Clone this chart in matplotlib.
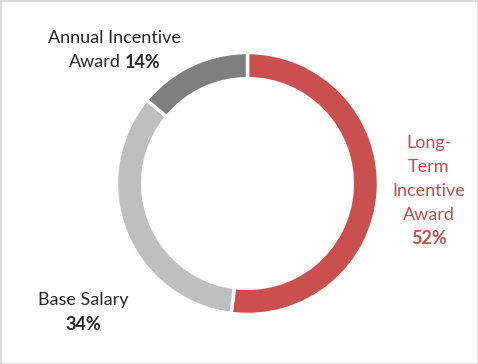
import matplotlib
matplotlib.use("Agg")
import matplotlib.pyplot as plt
from matplotlib.patches import Rectangle

labels = ["Long-Term Incentive Award", "Base Salary", "Annual Incentive Award"]
values = [52, 34, 14]
colors = ["#C9504F", "#BFBFBF", "#7F7F7F"]

W, H = 478, 364
fig = plt.figure(figsize=(W / 100, H / 100), dpi=100)
fig.patch.set_facecolor("white")

cx, cy, r = 247.5, 183.5, 131
ax = fig.add_axes([(cx - r) / W, (H - cy - r) / H, 2 * r / W, 2 * r / H])
ax.pie(values, colors=colors, startangle=90, counterclock=False,
       wedgeprops=dict(width=0.2, edgecolor="white", linewidth=2.5))
ax.set_xlim(-1, 1)
ax.set_ylim(-1, 1)
ax.axis("off")

font = "Lato"
fs = 13
dark = "#262626"
red = "#C0504D"

def T(x, y, s, **kw):
    kw.setdefault("ha", "center")
    fig.text(x / W, 1 - y / H, s, va="center", family=font, fontsize=fs, **kw)

T(114, 38, "Annual Incentive", color=dark)
T(121, 62, "Award", color=dark, ha="right")
T(125, 62, "14%", color=dark, ha="left", weight="bold")

for i, s in enumerate(["Long-", "Term", "Incentive", "Award"]):
    T(429, 143 + i * 24, s, color=red)
T(429, 239, f"{values[0]}%", color=red, weight="bold")

T(83, 300, "Base Salary", color=dark)
T(83, 324, f"{values[1]}%", color=dark, weight="bold")

fig.patches.append(Rectangle((0, 0), 1, 1, transform=fig.transFigure,
                             fill=False, edgecolor="#D9D9D9", linewidth=2))

fig.savefig("out.png", dpi=100)
